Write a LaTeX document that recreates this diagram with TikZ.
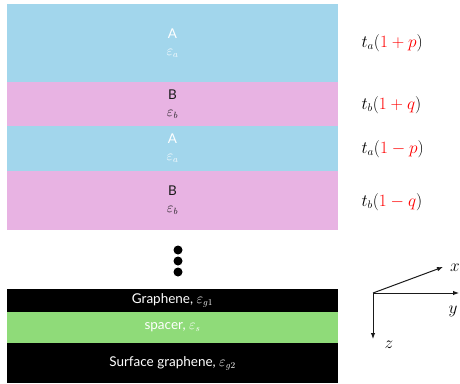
\documentclass[tikz,border=0pt]{standalone}
\usepackage{fontspec}
\setmainfont{Lato}
\usepackage{xcolor}
\usetikzlibrary{positioning,arrows.meta}
\definecolor{layA}{HTML}{A2D6EC}
\definecolor{layB}{HTML}{E8B3E3}
\definecolor{spacer}{HTML}{8FDB79}
\definecolor{ink}{HTML}{1A1A1A}
\begin{document}
\begin{tikzpicture}[x=1pt,y=-1pt,layer/.style={minimum width=331pt,inner sep=0pt,outer sep=0pt,align=center,font=\fontsize{13.5}{16}\selectfont},lab/.style={font=\fontsize{16}{18}\selectfont,anchor=west},axis/.style={-{Latex[length=6pt,width=4.5pt]},line width=1pt,draw=ink},node distance=0pt]
\useasboundingbox (0,0) rectangle (460,383);
\node[layer,fill=layA,text=white,minimum height=78pt] (a1) at (172.5,43) {A\\[1pt]$\varepsilon_a$};
\node[layer,fill=layB,text=ink,minimum height=44pt,below=of a1] (b1) {B\\[1pt]$\varepsilon_b$};
\node[layer,fill=layA,text=white,minimum height=45pt,below=of b1] (a2) {A\\[1pt]$\varepsilon_a$};
\node[layer,fill=layB,text=ink,minimum height=59pt,below=of a2] (b2) {B\\[1pt]$\varepsilon_b$};
\foreach \i in {0,1,2} \fill[black] (178,250+11*\i) circle (4.5pt);
\node[layer,fill=black,text=white,minimum height=23pt] (g1) at (172.5,300.5) {Graphene, $\varepsilon_{g1}$};
\node[layer,fill=spacer,text=white,minimum height=31pt,below=of g1] (sp) {spacer, $\varepsilon_s$};
\node[layer,fill=black,text=white,minimum height=40pt,below=of sp] (g2) {Surface graphene, $\varepsilon_{g2}$};
% thickness labels
\node[lab] (ta1) at (358,43) {$t_a(\textcolor{red}{1+p})$};
\node[lab] (tb1) at (358,105) {$t_b(\textcolor{red}{1+q})$};
\node[lab] (ta2) at (358,149) {$t_a(\textcolor{red}{1-p})$};
\node[lab] (tb2) at (358,202) {$t_b(\textcolor{red}{1-q})$};
% axes
\coordinate (o) at (373,293);
\coordinate (ex) at (443,267);
\coordinate (ey) at (459,293);
\coordinate (ez) at (373,339);
\draw[axis] (o) -- (ex);
\draw[axis] (o) -- (ey);
\draw[axis] (o) -- (ez);
\node[lab,anchor=center] (lx) at (455,268) {$x$};
\node[lab,anchor=center] (ly) at (453,311) {$y$};
\node[lab,anchor=center] (lz) at (389,345) {$z$};
\end{tikzpicture}
\end{document}
